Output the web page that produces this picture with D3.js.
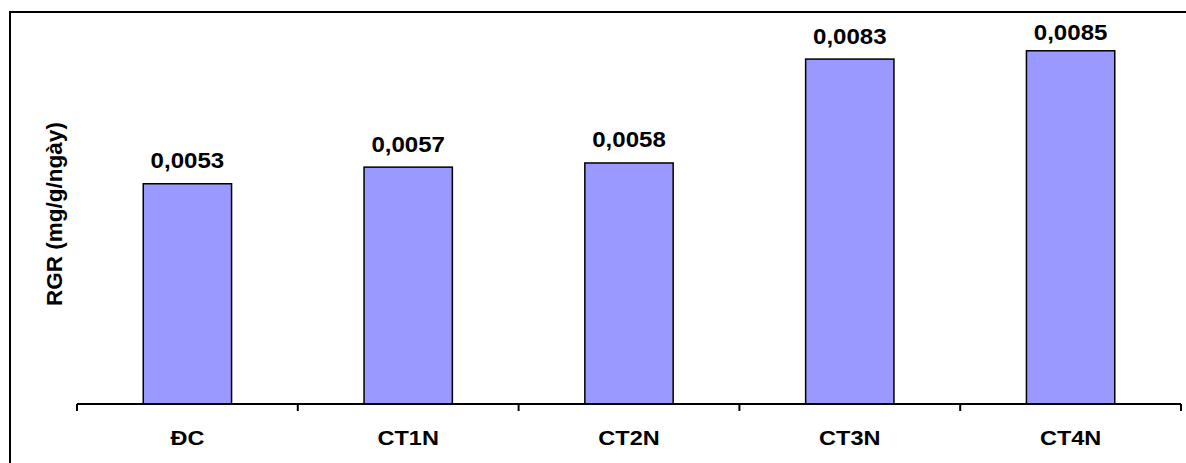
<!DOCTYPE html>
<html>
<head>
<meta charset="utf-8">
<script src="https://cdn.jsdelivr.net/npm/d3@7/dist/d3.min.js"></script>
<style>
  html, body { margin: 0; padding: 0; background: #fff; }
  svg { display: block; }
  text { font-family: "Liberation Sans", Arial, sans-serif; font-weight: bold; fill: #000; }
</style>
</head>
<body>
<svg id="chart" width="1186" height="463"></svg>
<script>
// Relative growth rate per treatment
const categories = ["ĐC", "CT1N", "CT2N", "CT3N", "CT4N"];
const rgrValues = [0.0053, 0.0057, 0.0058, 0.0083, 0.0085];
const valueLabels = ["0,0053", "0,0057", "0,0058", "0,0083", "0,0085"];
const yTitle = "RGR (mg/g/ngày)";

const plot = { left: 77, right: 1181, top: 30, bottom: 404 };
const stretch = 1.12;

const svg = d3.select("#chart");

// frame around the chart
svg.append("rect")
  .attr("x", 10).attr("y", 12)
  .attr("width", 1300).attr("height", 600)
  .attr("fill", "none").attr("stroke", "#000").attr("stroke-width", 2);

const x = d3.scaleBand().domain(categories).range([plot.left, plot.right]).padding(0);
const y = d3.scaleLinear().domain([0, 0.009]).range([plot.bottom, plot.top]);
const barW = x.bandwidth() * 0.4;

// bars
svg.append("g").selectAll("rect")
  .data(categories)
  .join("rect")
  .attr("x", (d) => x(d) + (x.bandwidth() - barW) / 2)
  .attr("y", (d, i) => y(rgrValues[i]))
  .attr("width", barW)
  .attr("height", (d, i) => plot.bottom - y(rgrValues[i]))
  .attr("fill", "#9999FF")
  .attr("stroke", "#000")
  .attr("stroke-width", 1.5);

// category axis with boundary ticks
const axisG = svg.append("g");
axisG.append("line")
  .attr("x1", plot.left).attr("x2", plot.right)
  .attr("y1", plot.bottom).attr("y2", plot.bottom)
  .attr("stroke", "#000").attr("stroke-width", 2);
const tickXs = categories.map((d) => x(d)).concat([plot.right]);
axisG.selectAll("line.tick")
  .data(tickXs)
  .join("line")
  .attr("class", "tick")
  .attr("x1", (d) => d).attr("x2", (d) => d)
  .attr("y1", plot.bottom).attr("y2", plot.bottom + 7)
  .attr("stroke", "#000").attr("stroke-width", 2);

// category labels
svg.append("g").selectAll("text")
  .data(categories)
  .join("text")
  .attr("transform", (d) => `translate(${x(d) + x.bandwidth() / 2},445) scale(${stretch},1)`)
  .attr("text-anchor", "middle")
  .style("font-size", "21px")
  .text((d) => d);

// value labels above the bars, kept inside the frame
svg.append("g").selectAll("text")
  .data(categories)
  .join("text")
  .attr("transform", (d, i) => {
    const ly = Math.max(y(rgrValues[i]) - 15.5, 39.5);
    return `translate(${x(d) + x.bandwidth() / 2},${ly}) scale(${stretch},1)`;
  })
  .attr("text-anchor", "middle")
  .style("font-size", "21.5px")
  .text((d, i) => valueLabels[i]);

// y axis title
svg.append("text")
  .attr("transform", "translate(62,214) rotate(-90)")
  .attr("text-anchor", "middle")
  .style("font-size", "22.5px")
  .text(yTitle);
</script>
</body>
</html>
